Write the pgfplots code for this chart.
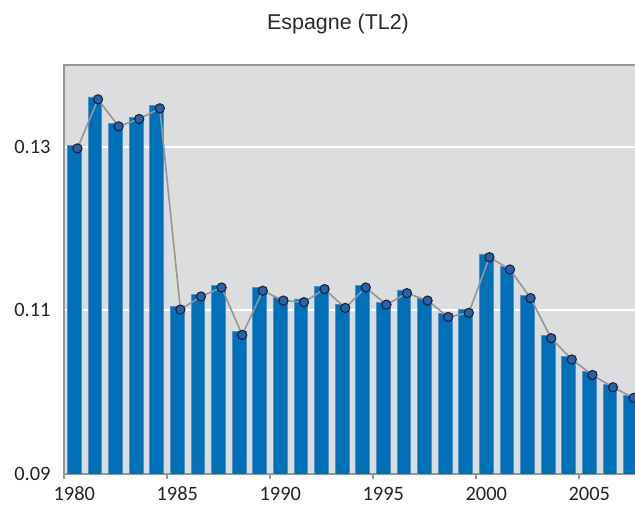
\documentclass[border=0pt]{standalone}
\usepackage{pgfplots}
\pgfplotsset{compat=1.18}
\usepackage{fontspec}
\setmainfont{Carlito}
\newfontfamily\titlefont{Liberation Sans}
\definecolor{barblue}{RGB}{0,112,184}
\definecolor{baredge}{RGB}{80,145,200}
\definecolor{bgc}{RGB}{220,221,223}
\definecolor{framegray}{RGB}{150,150,150}
\definecolor{linegray}{RGB}{150,150,150}
\definecolor{markfill}{RGB}{45,98,160}
\definecolor{markdraw}{RGB}{15,35,75}
\definecolor{tickc}{RGB}{35,35,35}
\pgfplotstableread{
year val
1980 0.1302
1981 0.1361
1982 0.1328
1983 0.1336
1984 0.1351
1985 0.1105
1986 0.1120
1987 0.1131
1988 0.1074
1989 0.1128
1990 0.1116
1991 0.1114
1992 0.1129
1993 0.1107
1994 0.1131
1995 0.1110
1996 0.1125
1997 0.1115
1998 0.1096
1999 0.1101
2000 0.1169
2001 0.1154
2002 0.1118
2003 0.1069
2004 0.1044
2005 0.1025
2006 0.1009
2007 0.0996
}\bars
\pgfplotstableread{
year val
1980.15 0.1298
1981.15 0.1358
1982.15 0.1325
1983.15 0.1334
1984.15 0.1347
1985.15 0.1101
1986.15 0.1117
1987.15 0.1128
1988.15 0.1070
1989.15 0.1124
1990.15 0.1112
1991.15 0.1110
1992.15 0.1126
1993.15 0.1103
1994.15 0.1128
1995.15 0.1107
1996.15 0.1121
1997.15 0.1112
1998.15 0.1092
1999.15 0.1097
2000.15 0.1165
2001.15 0.1150
2002.15 0.1115
2003.15 0.1066
2004.15 0.1040
2005.15 0.1021
2006.15 0.1006
2007.15 0.0993
}\linedata
\begin{document}
\begin{tikzpicture}
\begin{axis}[
  at={(64bp,32bp)}, anchor=south west,
  scale only axis, width=576.8bp, height=409bp,
  xmin=1979.5, xmax=2007.5, ymin=0.09, ymax=0.14,
  axis background/.style={fill=bgc},
  axis x line*=bottom, axis y line*=left,
  axis line style={framegray, line width=2.2bp, -},
  xtick={1980,1985,1990,1995,2000,2005},
  xticklabels={1980,1985,1990,1995,2000,2005},
  minor xtick={1979.5,1984.5,1989.5,1994.5,1999.5,2004.5},
  ytick={0.09,0.11,0.13},
  yticklabels={0.09,0.11,0.13},
  tick align=outside,
  major tick length=0pt,
  minor tick length=5bp,
  minor tick style={framegray, line width=2bp},
  ymajorgrids,
  major grid style={white, line width=2.2bp},
  ticklabel style={font=\fontsize{20.5}{24}\selectfont, text=tickc},
  yticklabel style={xshift=-10bp},
  xticklabel style={yshift=-9.5bp},
]
\addplot[ybar, bar width=13.8bp, fill=barblue, draw=baredge, line width=0.8bp] table[x=year,y=val] {\bars};
\addplot[linegray, line width=1.6bp, mark=*, mark size=4.6bp,
  mark options={fill=markfill, draw=markdraw, line width=1.1bp}] table[x=year,y=val] {\linedata};
\end{axis}
\draw[framegray, line width=2.2bp] (63bp,441bp) -- (660bp,441bp);
\node[anchor=base, font=\titlefont\fontsize{21.5}{25}\selectfont, text={rgb,255:red,40;green,40;blue,40}] at (338bp,476bp) {Espagne (TL2)};
\pgfresetboundingbox
\useasboundingbox (0,0) rectangle (635bp,506bp);
\end{tikzpicture}
\end{document}
